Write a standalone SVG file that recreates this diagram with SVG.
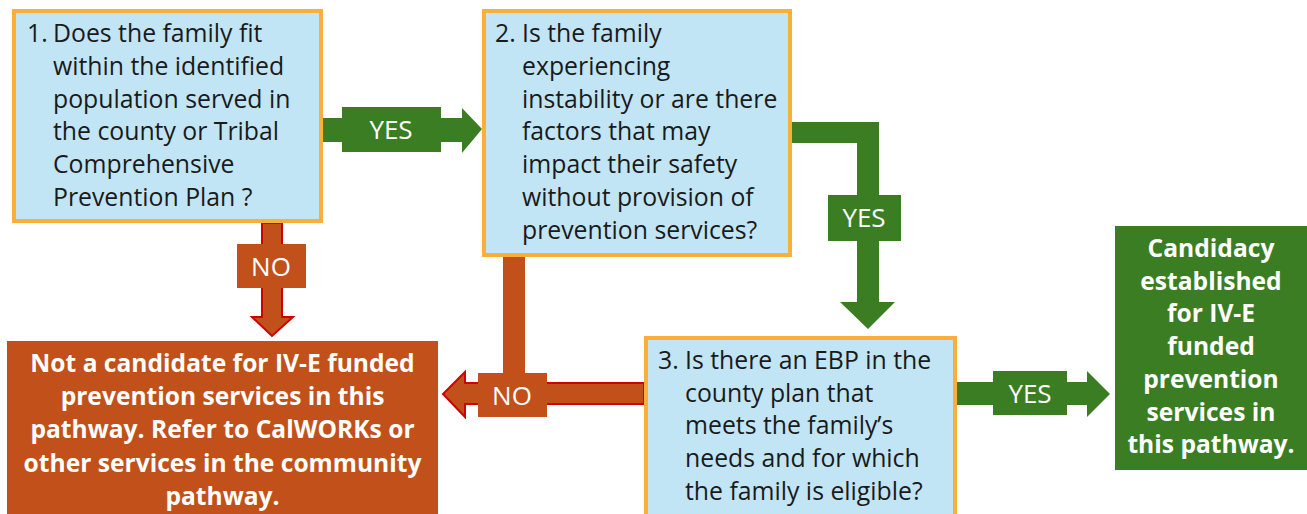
<svg xmlns="http://www.w3.org/2000/svg" width="1307" height="514" viewBox="0 0 1307 514">
<style>
.q{fill:#C1E5F5;stroke:#FAAF3A;stroke-width:4}
.t{font-family:"Open Sans","Liberation Sans",sans-serif;font-size:24.8px;fill:#1a1a1a}
.b{font-family:"Open Sans","Liberation Sans",sans-serif;font-size:24.6px;font-weight:bold;fill:#ffffff;text-anchor:middle}
.l{font-family:"Open Sans","Liberation Sans",sans-serif;font-size:26px;fill:#ffffff;text-anchor:middle}
.g{fill:#3B7D23}
.o{fill:#C1501A}
.or{fill:#C1501A;stroke:#D00000;stroke-width:2}
</style>
<g id="connectors">
  <g id="yes1">
    <polygon class="g" points="323,118 462,118 462,108 482,129 462,153 462,142 323,142"/>
    <rect class="g" x="342" y="107" width="99" height="45"/>
    <text class="l" x="391" y="139">YES</text>
  </g>
  <g id="no1">
    <polygon class="or" points="262,223 282,223 282,317 293,317 272,336 252,317 262,317"/>
    <rect class="o" x="237" y="244" width="69" height="44"/>
    <text class="l" x="271" y="276">NO</text>
  </g>
  <g id="yes2">
    <polygon class="g" points="792,122 879,122 879,302 895,302 868,329 840,302 857,302 857,143 792,143"/>
    <rect class="g" x="828" y="195" width="73" height="46"/>
    <text class="l" x="864" y="227">YES</text>
  </g>
  <g id="no2">
    <polygon class="or" points="644,383 465,383 465,372 443,394 465,417 465,404 644,404"/>
    <rect class="o" x="503" y="257" width="22" height="120"/>
    <rect class="o" x="478" y="373" width="69" height="44"/>
    <text class="l" x="512" y="405">NO</text>
  </g>
  <g id="yes3">
    <polygon class="g" points="957,382 1087,382 1087,371 1110,394 1087,417 1087,405 957,405"/>
    <rect class="g" x="993" y="371" width="74" height="44"/>
    <text class="l" x="1030" y="403">YES</text>
  </g>
</g>
<g id="q1">
  <rect class="q" x="14" y="11" width="307" height="210"/>
  <text class="t" x="27" y="42">1.</text>
  <text class="t"><tspan x="53" y="42">Does the family fit</tspan><tspan x="53" y="75">within the identified</tspan><tspan x="53" y="108">population served in</tspan><tspan x="53" y="140">the county or Tribal</tspan><tspan x="53" y="173">Comprehensive</tspan><tspan x="53" y="206">Prevention Plan ?</tspan></text>
</g>
<g id="q2">
  <rect class="q" x="484" y="11" width="306" height="244"/>
  <text class="t" x="495" y="42">2.</text>
  <text class="t"><tspan x="522" y="42">Is the family</tspan><tspan x="522" y="75">experiencing</tspan><tspan x="522" y="108">instability or are there</tspan><tspan x="522" y="140">factors that may</tspan><tspan x="522" y="173">impact their safety</tspan><tspan x="522" y="206">without provision of</tspan><tspan x="522" y="239">prevention services?</tspan></text>
</g>
<g id="q3">
  <rect class="q" x="646" y="338" width="309" height="190"/>
  <text class="t" x="658" y="369">3.</text>
  <text class="t"><tspan x="685" y="369">Is there an EBP in the</tspan><tspan x="685" y="402">county plan that</tspan><tspan x="685" y="434">meets the family’s</tspan><tspan x="685" y="467">needs and for which</tspan><tspan x="685" y="500">the family is eligible?</tspan></text>
</g>
<g id="not-candidate">
  <rect class="o" x="7" y="341" width="431" height="180"/>
  <text class="b"><tspan x="222.5" y="372">Not a candidate for IV-E funded</tspan><tspan x="222.5" y="405">prevention services in this</tspan><tspan x="222.5" y="438">pathway. Refer to CalWORKs or</tspan><tspan x="222.5" y="472">other services in the community</tspan><tspan x="222.5" y="505">pathway.</tspan></text>
</g>
<g id="candidacy">
  <rect class="g" x="1115" y="226" width="192" height="244"/>
  <text class="b"><tspan x="1211" y="257">Candidacy</tspan><tspan x="1211" y="290">established</tspan><tspan x="1211" y="322">for IV-E</tspan><tspan x="1211" y="355">funded</tspan><tspan x="1211" y="388">prevention</tspan><tspan x="1211" y="421">services in</tspan><tspan x="1211" y="453">this pathway.</tspan></text>
</g>
</svg>
